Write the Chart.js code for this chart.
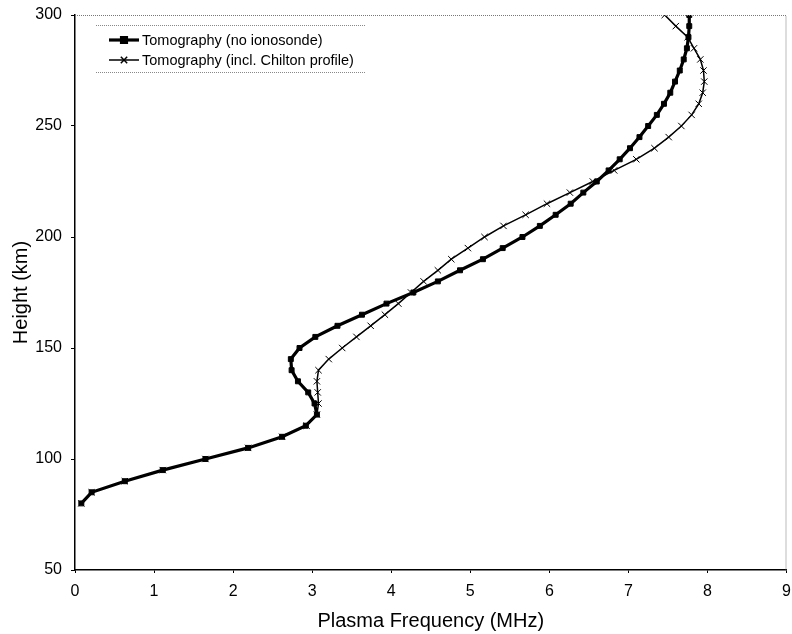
<!DOCTYPE html>
<html>
<head>
<meta charset="utf-8">
<title>Plasma frequency profile</title>
<script src="https://cdn.jsdelivr.net/npm/chart.js@4.4.1/dist/chart.umd.min.js"></script>
<style>
  html, body { margin: 0; padding: 0; background: #fff; }
  #wrap { width: 792px; height: 634px; }
</style>
</head>
<body>
<div id="wrap"><canvas id="profile" width="792" height="634"></canvas></div>
<script>
// heights of the profile (km), 5 km steps
var heights = [80, 85, 90, 95, 100, 105, 110, 115, 120, 125, 130, 135, 140, 145, 150,
  155, 160, 165, 170, 175, 180, 185, 190, 195, 200, 205, 210, 215, 220, 225,
  230, 235, 240, 245, 250, 255, 260, 265, 270, 275, 280, 285, 290, 295, 300];

// plasma frequency (MHz), tomography without ionosonde
var freqNoIono = [0.08, 0.21, 0.63, 1.11, 1.65, 2.19, 2.62, 2.92, 3.06, 3.03, 2.95, 2.82, 2.74, 2.73, 2.84,
  3.04, 3.32, 3.63, 3.94, 4.28, 4.59, 4.87, 5.16, 5.41, 5.66, 5.88, 6.08, 6.27, 6.43, 6.60,
  6.75, 6.89, 7.02, 7.14, 7.25, 7.36, 7.45, 7.53, 7.59, 7.65, 7.70, 7.74, 7.76, 7.77, 7.77];

// plasma frequency (MHz), tomography including the Chilton profile
var freqChilton = [0.08, 0.21, 0.63, 1.11, 1.65, 2.19, 2.62, 2.93, 3.06, 3.08, 3.07, 3.06, 3.08, 3.21, 3.38,
  3.56, 3.74, 3.92, 4.09, 4.25, 4.41, 4.59, 4.76, 4.97, 5.18, 5.42, 5.70, 5.97, 6.26, 6.55,
  6.82, 7.10, 7.33, 7.51, 7.67, 7.80, 7.89, 7.94, 7.96, 7.95, 7.91, 7.83, 7.75, 7.60, 7.46];

var seriesNames = ['Tomography (no ionosonde)', 'Tomography (incl. Chilton profile)'];

function toPoints(freqs) {
  var pts = [];
  for (var i = 0; i < freqs.length; i++) {
    pts.push({ x: freqs[i], y: heights[i] });
  }
  return pts;
}

// dotted top/right frame plus the boxed legend inside the plot
var framePlugin = {
  id: 'frameAndLegend',
  afterDraw: function(chart) {
    var ctx = chart.ctx;
    var a = chart.chartArea;
    ctx.save();
    ctx.strokeStyle = '#777';
    ctx.lineWidth = 1;
    ctx.setLineDash([1, 1]);
    ctx.beginPath();
    ctx.moveTo(a.left, a.top + 0.5);
    ctx.lineTo(a.right - 0.5, a.top + 0.5);
    ctx.lineTo(a.right - 0.5, a.bottom);
    ctx.stroke();

    // legend box
    var bx = 96, by = 25, bw = 270, bh = 47;
    ctx.strokeStyle = '#888';
    ctx.beginPath();
    ctx.moveTo(bx, by + 0.5);
    ctx.lineTo(bx + bw, by + 0.5);
    ctx.moveTo(bx, by + bh + 0.5);
    ctx.lineTo(bx + bw, by + bh + 0.5);
    ctx.stroke();
    ctx.setLineDash([]);

    var rows = [40, 60];
    chart.data.datasets.forEach(function(ds, i) {
      var y = rows[i];
      ctx.strokeStyle = '#000';
      ctx.lineWidth = ds.borderWidth;
      ctx.beginPath();
      ctx.moveTo(109, y);
      ctx.lineTo(139, y);
      ctx.stroke();
      Chart.helpers.drawPoint(ctx, {
        pointStyle: ds.pointStyle,
        radius: ds.pointRadius,
        borderWidth: ds.pointBorderWidth,
        rotation: 0
      }, 124, y);
      ctx.fillStyle = '#000';
      ctx.font = '14.5px "Liberation Sans", Arial, sans-serif';
      ctx.textBaseline = 'middle';
      ctx.textAlign = 'left';
      ctx.fillText(ds.label, 142, y + 1);
    });
    ctx.restore();
  }
};

var ctx = document.getElementById('profile').getContext('2d');
var chart = new Chart(ctx, {
  type: 'scatter',
  data: {
    datasets: [{
      label: seriesNames[0],
      data: toPoints(freqNoIono),
      showLine: true,
      borderColor: '#000',
      backgroundColor: '#000',
      borderWidth: 3.2,
      pointStyle: 'rect',
      pointRadius: 3.5,
      pointBorderWidth: 1,
      tension: 0
    }, {
      label: seriesNames[1],
      data: toPoints(freqChilton),
      showLine: true,
      borderColor: '#000',
      backgroundColor: '#000',
      borderWidth: 1.5,
      pointStyle: 'crossRot',
      pointRadius: 4.5,
      pointBorderWidth: 1,
      tension: 0
    }]
  },
  options: {
    responsive: false,
    animation: false,
    layout: { padding: { top: 15, right: 3, left: 0, bottom: 0 } },
    plugins: {
      legend: { display: false },
      tooltip: { enabled: false }
    },
    scales: {
      x: {
        type: 'linear',
        min: 0,
        max: 9,
        ticks: {
          stepSize: 1,
          color: '#000',
          padding: 9,
          font: { family: '"Liberation Sans", Arial, sans-serif', size: 16 }
        },
        grid: { drawOnChartArea: false, tickLength: 3, color: '#000' },
        border: { color: '#000', width: 1.5 },
        title: {
          display: true,
          text: 'Plasma Frequency (MHz)',
          color: '#000',
          font: { family: '"Liberation Sans", Arial, sans-serif', size: 20 },
          padding: { top: 0, bottom: 1 }
        },
        afterFit: function(scale) {
          scale.height = 64;
          // let the last label run off the edge instead of shrinking the plot
          scale.paddingRight = 0;
          scale.paddingLeft = 0;
        }
      },
      y: {
        type: 'linear',
        min: 50,
        max: 300,
        ticks: {
          stepSize: 50,
          color: '#000',
          padding: 9,
          font: { family: '"Liberation Sans", Arial, sans-serif', size: 16 }
        },
        grid: { drawOnChartArea: false, tickLength: 4, color: '#000' },
        border: { color: '#000', width: 1.5 },
        title: {
          display: true,
          text: 'Height (km)',
          color: '#000',
          font: { family: '"Liberation Sans", Arial, sans-serif', size: 20 },
          padding: { top: 9, bottom: 0 }
        },
        afterFit: function(scale) {
          scale.width = 75;
          scale.paddingTop = 0;
          scale.paddingBottom = 0;
        }
      }
    }
  },
  plugins: [framePlugin]
});
</script>
</body>
</html>
